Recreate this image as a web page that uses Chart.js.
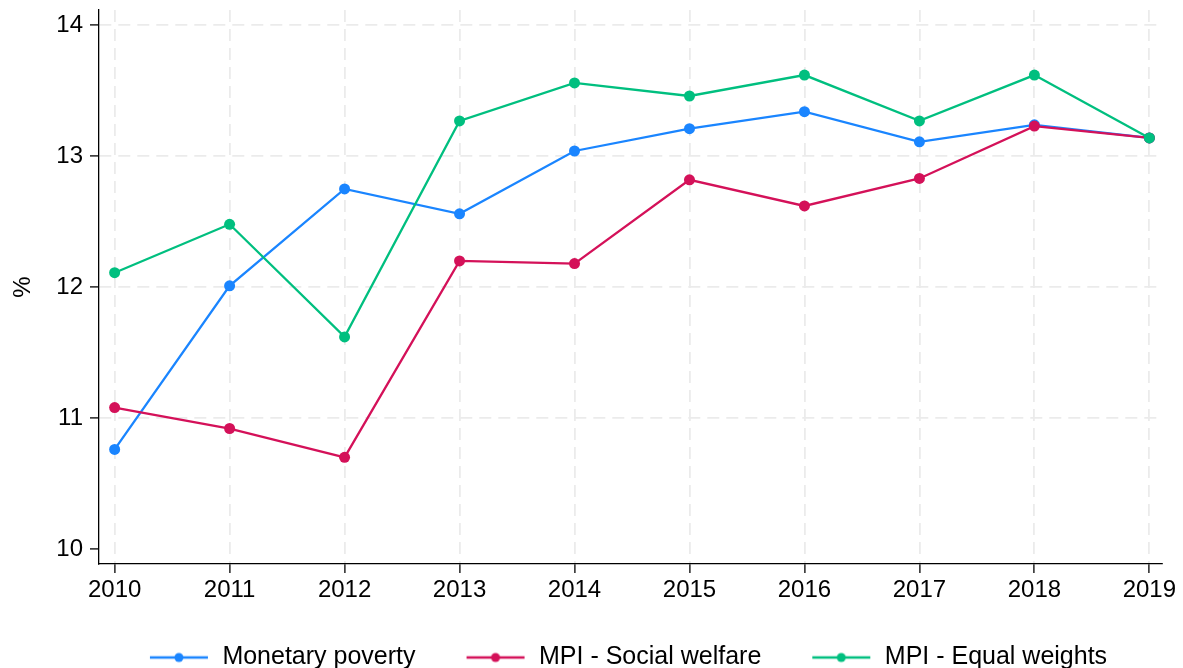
<!DOCTYPE html>
<html>
<head>
<meta charset="utf-8">
<title>Poverty rates 2010-2019</title>
<script src="https://cdn.jsdelivr.net/npm/chart.js@4/dist/chart.umd.min.js"></script>
<style>
  html, body { margin: 0; padding: 0; background: #fff; }
  #wrap { width: 1183px; height: 668px; position: relative; }
</style>
</head>
<body>
<div id="wrap"><canvas id="chart" width="1183" height="668"></canvas></div>
<script>
// Survey years and the three poverty measures (% of population)
const years = [2010, 2011, 2012, 2013, 2014, 2015, 2016, 2017, 2018, 2019];
const monetaryPoverty = [10.76, 12.01, 12.75, 12.56, 13.04, 13.21, 13.34, 13.11, 13.24, 13.14];
const mpiSocialWelfare = [11.08, 10.92, 10.70, 12.20, 12.18, 12.82, 12.62, 12.83, 13.23, 13.14];
const mpiEqualWeights = [12.11, 12.48, 11.62, 13.27, 13.56, 13.46, 13.62, 13.27, 13.62, 13.14];
const yTicks = [10, 11, 12, 13, 14];
const seriesNames = ['Monetary poverty', 'MPI - Social welfare', 'MPI - Equal weights'];

const colors = ['#1a85ff', '#d41159', '#00bf7f'];
const FONT = '"Liberation Sans", Arial, Helvetica, sans-serif';

// Legend symbol: a short line with a dot in the middle, with a blank lead-in
// on the left that separates consecutive legend entries.
const SYMBOL_W = 68, LEAD = 8, LINE_LEN = 58;
function legendSymbol(color) {
  const c = document.createElement('canvas');
  c.width = SYMBOL_W; c.height = 12;
  const g = c.getContext('2d');
  g.strokeStyle = color;
  g.lineWidth = 2.3;
  g.beginPath(); g.moveTo(LEAD, 6); g.lineTo(LEAD + LINE_LEN, 6); g.stroke();
  g.fillStyle = color;
  g.beginPath(); g.arc(LEAD + LINE_LEN / 2, 6, 4.5, 0, Math.PI * 2); g.fill();
  return c;
}

// Small offset applied to the legend box once the layout is done
const legendNudge = {
  id: 'legendNudge',
  afterLayout(chart) {
    const lg = chart.legend;
    if (!lg) return;
    lg.left -= 6; lg.right -= 6;
    lg.top += 3; lg.bottom += 3;
  }
};

function toPoints(values) {
  return years.map((yr, i) => ({ x: yr, y: values[i] }));
}

const allSeries = [monetaryPoverty, mpiSocialWelfare, mpiEqualWeights];
const datasets = allSeries.map((vals, i) => ({
  label: seriesNames[i],
  data: toPoints(vals),
  borderColor: colors[i],
  backgroundColor: colors[i],
  pointBackgroundColor: colors[i],
  pointBorderColor: colors[i],
  pointBorderWidth: 0,
  pointRadius: 5.5,
  borderWidth: 2.3,
  tension: 0,
  order: 3 - i
}));

new Chart(document.getElementById('chart'), {
  type: 'line',
  data: { datasets },
  plugins: [legendNudge],
  options: {
    responsive: false,
    animation: false,
    events: [],
    layout: { padding: { top: 10, right: 21, left: 0, bottom: -9 } },
    scales: {
      x: {
        type: 'linear',
        min: 2009.864,
        max: 2019.11,
        afterBuildTicks: s => { s.ticks = years.map(v => ({ value: v })); },
        afterFit: s => { s.height = 35; s.paddingLeft = 0; s.paddingRight = 0; },
        ticks: {
          color: '#000',
          padding: 3,
          font: { family: FONT, size: 24 },
          callback: v => String(v),
          maxRotation: 0,
          autoSkip: false
        },
        grid: {
          color: '#ebebeb',
          lineWidth: 1.8,
          tickLength: 9,
          tickColor: '#000',
          tickWidth: 1.3
        },
        border: { display: true, color: '#000', width: 1.3, dash: [12, 7] }
      },
      y: {
        type: 'linear',
        min: 9.885,
        max: 14.117,
        afterBuildTicks: s => { s.ticks = yTicks.map(v => ({ value: v })); },
        afterFit: s => { s.width = 99; s.paddingTop = 0; s.paddingBottom = 0; },
        ticks: {
          color: '#000',
          padding: 7,
          font: { family: FONT, size: 24 },
          callback: v => String(v)
        },
        grid: {
          color: ctx => (ctx.tick && ctx.tick.value === 10) ? 'rgba(0,0,0,0)' : '#ebebeb',
          lineWidth: 1.8,
          tickLength: 9,
          tickColor: '#000',
          tickWidth: 1.3
        },
        border: { display: true, color: '#000', width: 1.3, dash: [12, 7] },
        title: {
          display: true,
          text: '%',
          color: '#000',
          font: { family: FONT, size: 24 },
          padding: { top: 9, bottom: 0 }
        }
      }
    },
    plugins: {
      tooltip: { enabled: false },
      legend: {
        position: 'bottom',
        fullSize: false,
        labels: {
          usePointStyle: true,
          pointStyleWidth: SYMBOL_W,
          boxHeight: 12,
          padding: 43,
          color: '#000',
          font: { family: FONT, size: 25 },
          generateLabels: chart => chart.data.datasets.map((ds, i) => ({
            text: ds.label,
            fillStyle: ds.borderColor,
            strokeStyle: ds.borderColor,
            lineWidth: 0,
            pointStyle: legendSymbol(ds.borderColor),
            datasetIndex: i,
            hidden: false
          }))
        }
      }
    }
  }
});
</script>
</body>
</html>
